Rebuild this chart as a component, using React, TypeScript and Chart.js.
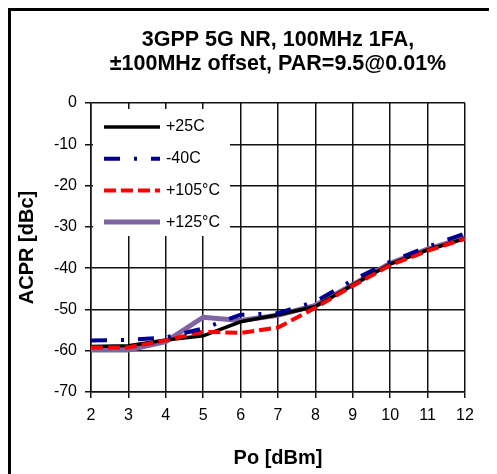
import React, { useEffect, useRef } from "react";
import { Chart, registerables } from "chart.js";

Chart.register(...registerables);

const FONT = "'Liberation Sans', Arial, Helvetica, sans-serif";

// Output power sweep [dBm]
const powerOut = [2, 3, 4, 5, 6, 7, 8, 9, 10, 11, 12];

// ACPR [dBc] per temperature
const acprPlus25C = [-59.0, -58.8, -57.4, -56.4, -53.0, -51.3, -49.3, -44.1, -39.0, -35.6, -32.8];
const acprMinus40C = [-57.5, -57.4, -56.8, -54.6, -51.3, -50.9, -48.1, -42.9, -38.4, -34.8, -31.6];
const acprPlus105C = [-59.2, -59.2, -57.5, -55.4, -55.7, -54.4, -49.6, -44.3, -39.3, -35.8, -32.9];
const acprPlus125C = [-59.8, -59.8, -57.8, -51.9, -52.7, -51.4, -49.0, -44.0, -38.8, -35.4, -32.6];

const seriesLabels = ["+25C", "-40C", "+105°C", "+125°C"];

const titleLines = ["3GPP 5G NR, 100MHz 1FA,", "±100MHz offset, PAR=9.5@0.01%"];
const xAxisTitle = "Po [dBm]";
const yAxisTitle = "ACPR [dBc]";

const xRange = { min: 2, max: 12, step: 1 };
const yRange = { min: -70, max: 0, step: 10 };

const toPoints = (ys: number[]) => powerOut.map((x, i) => ({ x, y: ys[i] }));

// Draws the two-line heading and the boxed key inside the plot area
const headingAndKey = {
  id: "headingAndKey",
  beforeDatasetsDraw(chart: any) {
    const { ctx, chartArea } = chart;
    ctx.save();
    ctx.fillStyle = "#ffffff";
    ctx.fillRect(chartArea.left + 2, chartArea.top + 6, 137, 127);
    chart.data.datasets.forEach((ds: any, i: number) => {
      const y = chartArea.top + 24 + i * 31.7;
      ctx.beginPath();
      ctx.strokeStyle = ds.borderColor;
      ctx.lineWidth = ds.borderWidth;
      ctx.setLineDash(ds.borderDash || []);
      ctx.lineCap = "butt";
      ctx.moveTo(chartArea.left + 13, y);
      ctx.lineTo(chartArea.left + 69, y);
      ctx.stroke();
      ctx.setLineDash([]);
      ctx.fillStyle = "#000000";
      ctx.font = `16px ${FONT}`;
      ctx.textAlign = "left";
      ctx.textBaseline = "middle";
      ctx.fillText(ds.label, chartArea.left + 75, y);
    });
    ctx.restore();
  },
  afterDraw(chart: any) {
    const { ctx, chartArea } = chart;
    const cx = (chartArea.left + chartArea.right) / 2;
    ctx.save();
    ctx.fillStyle = "#000000";
    ctx.font = `bold 21.5px ${FONT}`;
    ctx.textAlign = "center";
    ctx.textBaseline = "middle";
    titleLines.forEach((line, i) => ctx.fillText(line, cx, 32 + i * 24));
    ctx.restore();
  },
};

export default function App() {
  const canvasRef = useRef<HTMLCanvasElement | null>(null);

  useEffect(() => {
    if (!canvasRef.current) return;
    const chart = new Chart(canvasRef.current, {
      type: "line",
      data: {
        datasets: [
          {
            label: seriesLabels[0],
            data: toPoints(acprPlus25C),
            borderColor: "#000000",
            borderWidth: 3.5,
            order: 3,
          },
          {
            label: seriesLabels[1],
            data: toPoints(acprMinus40C),
            borderColor: "#00008f",
            borderWidth: 4,
            borderDash: [16, 14, 3, 14],
            order: 1,
          },
          {
            label: seriesLabels[2],
            data: toPoints(acprPlus105C),
            borderColor: "#ff0000",
            borderWidth: 4,
            borderDash: [12, 5],
            order: 2,
          },
          {
            label: seriesLabels[3],
            data: toPoints(acprPlus125C),
            borderColor: "#8064a2",
            borderWidth: 5,
            order: 4,
          },
        ] as any,
      },
      options: {
        animation: false,
        responsive: true,
        maintainAspectRatio: false,
        layout: { padding: { top: 95, right: 24, left: 0, bottom: 0 } },
        elements: {
          point: { radius: 0 },
          line: { tension: 0, fill: false },
        },
        plugins: {
          legend: { display: false },
          tooltip: { enabled: false },
          title: { display: false },
        },
        scales: {
          x: {
            type: "linear",
            min: xRange.min,
            max: xRange.max,
            afterFit: (scale: any) => {
              scale.height = 82;
            },
            ticks: {
              stepSize: xRange.step,
              padding: 8,
              color: "#000000",
              font: { family: FONT, size: 16 },
            },
            grid: { color: "#111111", lineWidth: 1.5, tickLength: 6 },
            border: { color: "#111111", width: 1.5 },
            title: {
              display: true,
              text: xAxisTitle,
              color: "#000000",
              font: { family: FONT, size: 20, weight: "bold" },
              padding: { top: 0, bottom: 4 },
            },
          },
          y: {
            type: "linear",
            min: yRange.min,
            max: yRange.max,
            afterFit: (scale: any) => {
              scale.width = 83;
            },
            ticks: {
              stepSize: yRange.step,
              padding: 8,
              color: "#000000",
              font: { family: FONT, size: 16 },
            },
            grid: { color: "#111111", lineWidth: 1.5, tickLength: 6 },
            border: { color: "#111111", width: 1.5 },
            title: {
              display: true,
              text: yAxisTitle,
              color: "#000000",
              font: { family: FONT, size: 20, weight: "bold" },
              padding: { top: 7, bottom: 0 },
            },
          },
        },
      } as any,
      plugins: [headingAndKey],
    });
    return () => chart.destroy();
  }, []);

  return (
    <div style={{ position: "fixed", left: 8, top: 8, width: 481, height: 466 }}>
      <canvas ref={canvasRef} />
      <div
        style={{
          position: "absolute",
          left: 0,
          top: 0,
          right: 0,
          bottom: 0,
          borderLeft: "3px solid #000",
          borderTop: "3px solid #000",
          pointerEvents: "none",
        }}
      />
    </div>
  );
}
